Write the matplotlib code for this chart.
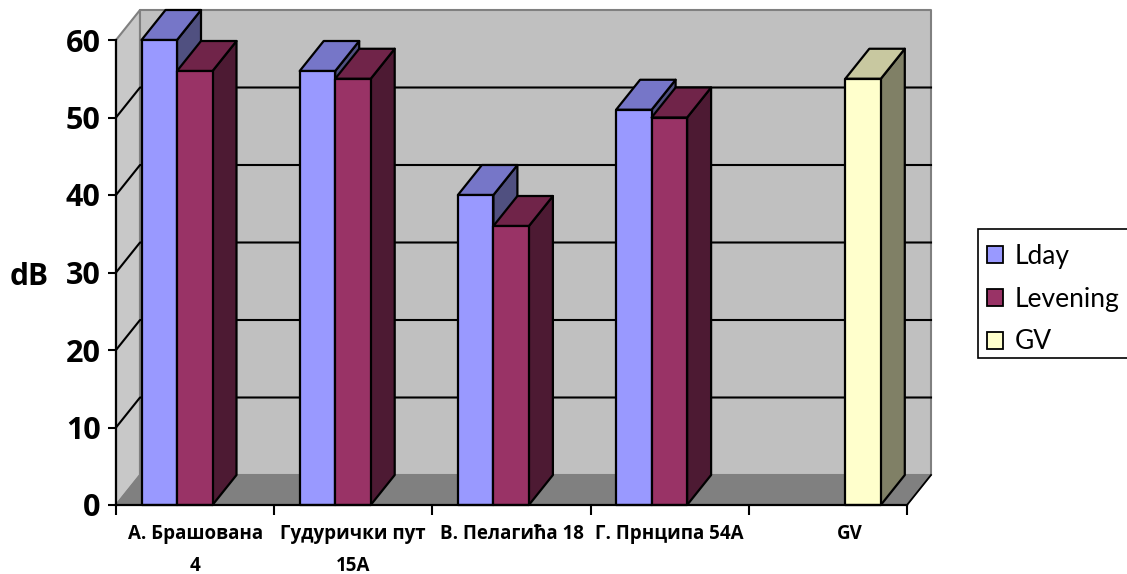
import matplotlib
matplotlib.use("Agg")
import matplotlib.pyplot as plt
from matplotlib.patches import Polygon, Patch, Rectangle

plt.rcParams['font.family'] = ['Lato', 'Open Sans', 'DejaVu Sans']

categories = ["А. Брашована\n4", "Гудурички пут\n15А", "В. Пелагића 18", "Г. Прнципа 54А", "GV"]
lday = [60, 56, 40, 51, None]
levening = [56, 55, 36, 50, None]
gv = [None, None, None, None, 55]
y_ticks = [0, 10, 20, 30, 40, 50, 60]

series = [
    ("Lday", lday, "#9999FF", "#7676C8", "#505080"),
    ("Levening", levening, "#993366", "#702449", "#4D1A33"),
    ("GV", gv, "#FFFFCC", "#C8C8A0", "#808066"),
]

W, H = 1127, 574
fig = plt.figure(figsize=(W / 100, H / 100), dpi=100)
ax = fig.add_axes([116 / W, 1 - 505 / H, (907 - 116) / W, (505 - 40) / H])
ax.set_xlim(0, 5)
ax.set_ylim(0, 60)
ax.patch.set_visible(False)

# depth of the fake 3d box, in data units
DX = 24 / 158.2
DY = 30 / 7.75
BAR_W = 35.5 / 158.2
GAP = 25.5 / 158.2


def poly(points, face, edge="black", lw=1.6, z=2):
    ax.add_patch(Polygon(points, closed=True, facecolor=face, edgecolor=edge,
                         linewidth=lw, clip_on=False, zorder=z, joinstyle="round"))


# walls and floor
poly([(0, 0), (DX, DY), (DX, 60 + DY), (0, 60)], "#C8C8C8", "#808080", 1.5, 1)
poly([(DX, DY), (5 + DX, DY), (5 + DX, 60 + DY), (DX, 60 + DY)], "#C0C0C0", "#808080", 1.5, 1)
poly([(0, 0), (5, 0), (5 + DX, DY), (DX, DY)], "#808080", "#808080", 1, 1)
ax.plot([5, 5 + DX], [0, DY], color="black", lw=1.3, clip_on=False, zorder=1.5)

for v in y_ticks[1:-1]:
    ax.plot([0, DX, 5 + DX], [v, v + DY, v + DY], color="black", lw=1.5, clip_on=False, zorder=1.5)

# bars
for i in range(len(categories)):
    for s, (name, values, front, top, side) in enumerate(series):
        v = values[i]
        if v is None:
            continue
        x0 = i + GAP + s * BAR_W
        x1 = x0 + BAR_W
        poly([(x1, 0), (x1 + DX, DY), (x1 + DX, v + DY), (x1, v)], side, z=3 + s)
        poly([(x0, v), (x1, v), (x1 + DX, v + DY), (x0 + DX, v + DY)], top, z=3 + s)
        poly([(x0, 0), (x1, 0), (x1, v), (x0, v)], front, z=3 + s)

for name in ("top", "right"):
    ax.spines[name].set_visible(False)
for name in ("left", "bottom"):
    ax.spines[name].set_linewidth(1.6)
    ax.spines[name].set_zorder(8)

ax.set_yticks(y_ticks)
ax.tick_params(axis="y", length=6, width=1.5, pad=5, labelsize=22)
for t in ax.get_yticklabels():
    t.set_fontweight("bold")
    t.set_family(['Open Sans', 'DejaVu Sans'])
ax.set_xticks(range(len(categories) + 1))
ax.set_xticklabels([])
ax.tick_params(axis="x", length=7, width=1.5)

label_x = [0.5, 1.5, 2.5, 3.5, 4.64]
for x, label in zip(label_x, categories):
    ax.annotate(label, (x, 0), xytext=(0, -14), textcoords="offset points",
                ha="center", va="top", fontsize=13.5, fontweight="bold",
                family=['Open Sans', 'DejaVu Sans'], linespacing=1.75,
                annotation_clip=False)

ax.set_ylabel("dB", rotation=0, fontsize=21.5, fontweight="bold", va="center", ha="center",
              family=['Open Sans', 'DejaVu Sans'])
ax.yaxis.set_label_coords(-0.11, 0.49)

# legend box runs off the right edge of the picture, entries sit low in it
fig.add_artist(Rectangle((978 / W, 1 - 358 / H), 160 / W, 129 / H, transform=fig.transFigure,
                         facecolor="white", edgecolor="black", linewidth=1.2))
handles = [Patch(facecolor=s[2], edgecolor="black", linewidth=1.3, label=s[0]) for s in series]
leg = fig.legend(handles=handles, loc="center left", bbox_to_anchor=(978 / W, 1 - 299 / H),
                 frameon=False, fontsize=19, handlelength=0.62, handleheight=0.62,
                 handletextpad=0.42, labelspacing=0.68, borderpad=0.34, borderaxespad=0)

fig.savefig("out.png", dpi=100)
